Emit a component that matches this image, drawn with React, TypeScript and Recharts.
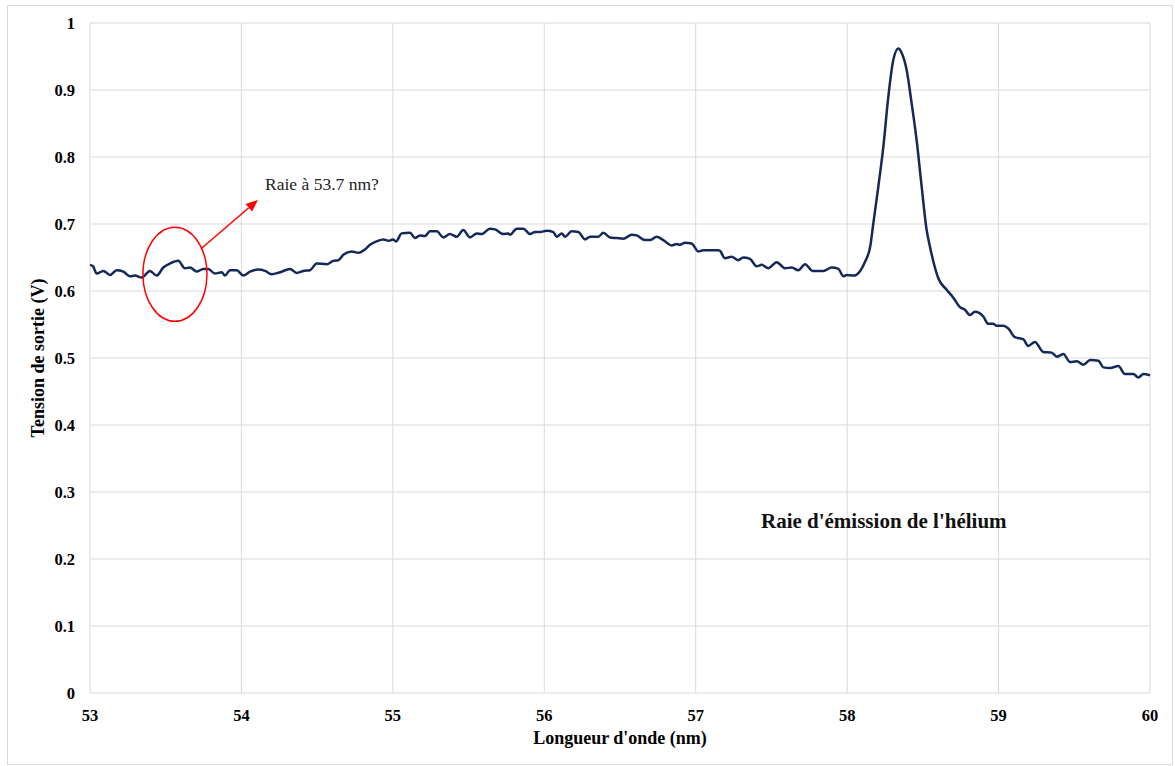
import React from 'react';
import { LineChart, Line, XAxis, YAxis, CartesianGrid, ReferenceDot, ReferenceLine } from 'recharts';

// longueur d'onde (nm)
const wavelength = [
  53.0, 53.02, 53.044, 53.088, 53.132, 53.176, 53.22, 53.264, 53.297, 53.341,
  53.396, 53.44, 53.484, 53.528, 53.583, 53.627, 53.66, 53.705, 53.748, 53.781,
  53.825, 53.87, 53.891, 53.925, 53.969, 54.012, 54.057, 54.111, 54.156, 54.2,
  54.255, 54.321, 54.365, 54.409, 54.453, 54.497, 54.563, 54.607, 54.64, 54.673,
  54.728, 54.772, 54.816, 54.849, 54.893, 54.937, 54.975, 55.0, 55.021, 55.058,
  55.113, 55.146, 55.179, 55.212, 55.245, 55.29, 55.333, 55.377, 55.422, 55.465,
  55.509, 55.554, 55.587, 55.641, 55.675, 55.729, 55.762, 55.773, 55.818, 55.862,
  55.906, 55.939, 55.972, 56.016, 56.06, 56.082, 56.115, 56.137, 56.181, 56.225,
  56.269, 56.302, 56.357, 56.39, 56.434, 56.478, 56.522, 56.577, 56.61, 56.665,
  56.698, 56.742, 56.786, 56.841, 56.874, 56.896, 56.929, 56.973, 57.017, 57.05,
  57.149, 57.16, 57.193, 57.237, 57.281, 57.314, 57.358, 57.403, 57.436, 57.479,
  57.535, 57.589, 57.634, 57.677, 57.722, 57.772, 57.843, 57.898, 57.942, 57.975,
  57.997, 58.041, 58.086, 58.119, 58.152, 58.173, 58.206, 58.239, 58.272, 58.305,
  58.338, 58.361, 58.393, 58.426, 58.459, 58.492, 58.525, 58.547, 58.574, 58.602,
  58.657, 58.701, 58.745, 58.778, 58.811, 58.844, 58.899, 58.932, 58.965, 58.987,
  59.031, 59.064, 59.108, 59.163, 59.196, 59.24, 59.295, 59.351, 59.385, 59.428,
  59.472, 59.517, 59.56, 59.605, 59.659, 59.692, 59.737, 59.791, 59.835, 59.89,
  59.923, 59.957, 60.0,
];

// tension de sortie (V)
const tension = [
  0.639, 0.637, 0.626, 0.63, 0.624, 0.631, 0.629, 0.622, 0.623, 0.62,
  0.63, 0.623, 0.635, 0.641, 0.645, 0.634, 0.635, 0.629, 0.633, 0.633,
  0.626, 0.628, 0.623, 0.631, 0.631, 0.623, 0.629, 0.632, 0.63, 0.625,
  0.628, 0.633, 0.627, 0.63, 0.631, 0.641, 0.64, 0.645, 0.646, 0.654,
  0.659, 0.657, 0.662, 0.669, 0.674, 0.677, 0.675, 0.677, 0.674, 0.686,
  0.687, 0.679, 0.683, 0.682, 0.689, 0.689, 0.68, 0.685, 0.681, 0.691,
  0.68, 0.686, 0.685, 0.693, 0.692, 0.685, 0.686, 0.684, 0.693, 0.693,
  0.685, 0.688, 0.688, 0.69, 0.688, 0.681, 0.686, 0.681, 0.689, 0.688,
  0.677, 0.681, 0.681, 0.687, 0.68, 0.679, 0.678, 0.684, 0.683, 0.676,
  0.676, 0.681, 0.676, 0.668, 0.67, 0.669, 0.672, 0.671, 0.659, 0.661,
  0.661, 0.66, 0.649, 0.651, 0.646, 0.65, 0.648, 0.637, 0.639, 0.634,
  0.643, 0.634, 0.635, 0.631, 0.64, 0.63, 0.63, 0.635, 0.633, 0.622,
  0.624, 0.623, 0.63, 0.644, 0.666, 0.701, 0.756, 0.815, 0.89, 0.945,
  0.962, 0.955, 0.93, 0.88, 0.825, 0.756, 0.691, 0.666, 0.64, 0.619,
  0.602, 0.59, 0.576, 0.572, 0.564, 0.569, 0.562, 0.551, 0.551, 0.548,
  0.548, 0.544, 0.531, 0.528, 0.518, 0.524, 0.509, 0.508, 0.502, 0.506,
  0.494, 0.495, 0.49, 0.497, 0.496, 0.486, 0.485, 0.488, 0.476, 0.476,
  0.471, 0.476, 0.474,
];

const xTicks = [53, 54, 55, 56, 57, 58, 59, 60];
const yTicks = [0, 0.1, 0.2, 0.3, 0.4, 0.5, 0.6, 0.7, 0.8, 0.9, 1];

const data = wavelength.map((x, i) => ({ x, v: tension[i] }));

const SERIF = '"Liberation Serif", "Times New Roman", serif';
const tickStyle = { fontSize: 16.5, fontWeight: 700, fill: '#000', fontFamily: SERIF };
const axisTitleStyle = { fontSize: 18, fontWeight: 700, fill: '#000', fontFamily: SERIF };

function Ellipse(props: any) {
  return <ellipse cx={props.cx} cy={props.cy} rx={32} ry={47} fill="none" stroke="#ff0000" strokeWidth={1.5} />;
}

function Arrow(props: any) {
  const { x1, y1, x2, y2 } = props;
  const ang = Math.atan2(y2 - y1, x2 - x1);
  const len = 12;
  const w = 5;
  const bx = x2 - len * Math.cos(ang);
  const by = y2 - len * Math.sin(ang);
  const p1 = `${bx + w * Math.sin(ang)},${by - w * Math.cos(ang)}`;
  const p2 = `${bx - w * Math.sin(ang)},${by + w * Math.cos(ang)}`;
  return (
    <g>
      <line x1={x1} y1={y1} x2={bx} y2={by} stroke="#ff0000" strokeWidth={1.5} />
      <polygon points={`${x2},${y2} ${p1} ${p2}`} fill="#ff0000" />
    </g>
  );
}

function NoteText(props: any) {
  return (
    <text x={props.cx} y={props.cy} dominantBaseline="middle" fontSize={17.5} fill="#222" fontFamily={SERIF}>
      Raie à 53.7 nm?
    </text>
  );
}

function TitleText(props: any) {
  return (
    <text x={props.cx} y={props.cy} dominantBaseline="middle" fontSize={21} fontWeight={700} fill="#111" fontFamily={SERIF}>
      Raie d'émission de l'hélium
    </text>
  );
}

export default function App() {
  return (
    <div
      style={{
        position: 'absolute',
        left: 7,
        top: 5,
        width: 1164,
        height: 758,
        border: '1px solid #d9d9d9',
        background: '#fff',
        fontFamily: SERIF,
      }}
    >
      <LineChart
        width={1164}
        height={758}
        data={data}
        margin={{ top: 17, right: 22, bottom: 21, left: 12 }}
        style={{ fontFamily: SERIF }}
      >
        <CartesianGrid stroke="#d9d9d9" strokeWidth={1} />
        <XAxis
          dataKey="x"
          type="number"
          domain={[53, 60]}
          ticks={xTicks}
          axisLine={false}
          tickLine={false}
          tickSize={0}
          tickMargin={16}
          height={50}
          tick={tickStyle}
          label={{ value: "Longueur d'onde (nm)", position: 'insideBottom', offset: -1, style: axisTitleStyle }}
        />
        <YAxis
          type="number"
          domain={[0, 1]}
          ticks={yTicks}
          axisLine={false}
          tickLine={false}
          tickSize={0}
          tickMargin={15}
          width={70}
          tick={tickStyle}
          label={{ value: 'Tension de sortie (V)', angle: -90, position: 'insideLeft', offset: 18, style: { ...axisTitleStyle, textAnchor: 'middle' } }}
        />
        <Line
          dataKey="v"
          type="monotone"
          stroke="#14285a"
          strokeWidth={2.5}
          dot={false}
          isAnimationActive={false}
        />
        <ReferenceDot x={53.561} y={0.625} r={0} shape={Ellipse} />
        <ReferenceLine
          segment={[{ x: 53.733, y: 0.663 }, { x: 54.109, y: 0.736 }]}
          shape={Arrow}
        />
        <ReferenceDot x={54.156} y={0.757} r={0} shape={NoteText} />
        <ReferenceDot x={57.431} y={0.254} r={0} shape={TitleText} />
      </LineChart>
    </div>
  );
}
